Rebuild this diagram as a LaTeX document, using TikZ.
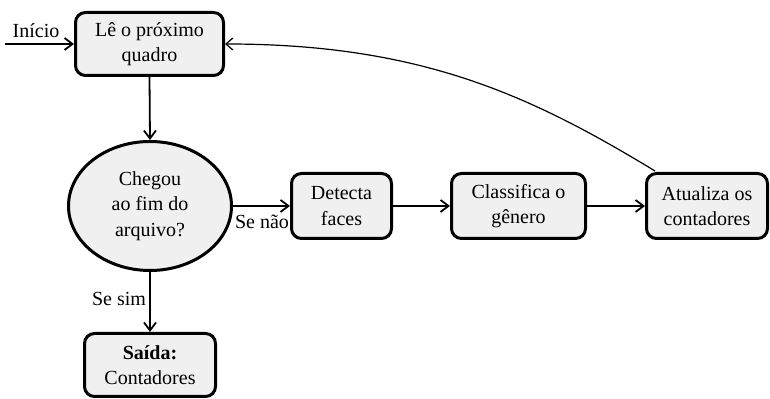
\documentclass[tikz,border=0pt]{standalone}
\usepackage{fontspec}
\setmainfont{Liberation Serif}
\usetikzlibrary{arrows.meta,shapes.geometric}
\begin{document}
\begin{tikzpicture}[x=0.5pt,y=-0.5pt,
  font=\fontsize{10}{12.8}\selectfont,
  proc/.style={draw,line width=1.5pt,rounded corners=5pt,fill=black!6,align=center,inner sep=0pt},
  dec/.style={draw,line width=1.5pt,ellipse,fill=black!6,align=center,inner sep=0pt},
  conn/.style={line width=0.9pt,-{Straight Barb[length=4pt,width=6pt,line width=0.9pt]}},
  back/.style={line width=0.6pt,-{Straight Barb[length=3.5pt,width=6pt,line width=0.6pt]}}]
\useasboundingbox (0,0) rectangle (770,399);
\node[proc,minimum width=74pt,minimum height=31.5pt] (read) at (149.5,44) {Lê o próximo\\quadro};
\node[dec,minimum width=81.5pt,minimum height=64.5pt] (end) at (150,206) {Chegou\\ao fim do\\arquivo?};
\node[proc,minimum width=50pt,minimum height=32.5pt] (det) at (341.5,206) {Detecta\\faces};
\node[proc,minimum width=67pt,minimum height=32.5pt] (cls) at (518.5,206) {Classifica o\\gênero};
\node[proc,minimum width=60.5pt,minimum height=32.5pt] (upd) at (707,206) {Atualiza os\\contadores};
\node[proc,minimum width=65.5pt,minimum height=31.5pt] (out) at (150,365) {\textbf{Saída:}\\Contadores};
\coordinate (start) at (5,44);
\coordinate (bk) at (655,171);
\node (lini) at (36,31) {Início};
\node (lno) at (262,222) {Se não};
\node (lsim) at (119,299) {Se sim};
\draw[conn] (start) -- (read.west);
\draw[conn] (read.south) -- (end.north);
\draw[conn] (end.east) -- (det.west);
\draw[conn] (det.east) -- (cls.west);
\draw[conn] (cls.east) -- (upd.west);
\draw[conn] (end.south) -- (out.north);
\draw[back] (bk) .. controls (530,95) and (420,44) .. (read.east);
\end{tikzpicture}
\end{document}
